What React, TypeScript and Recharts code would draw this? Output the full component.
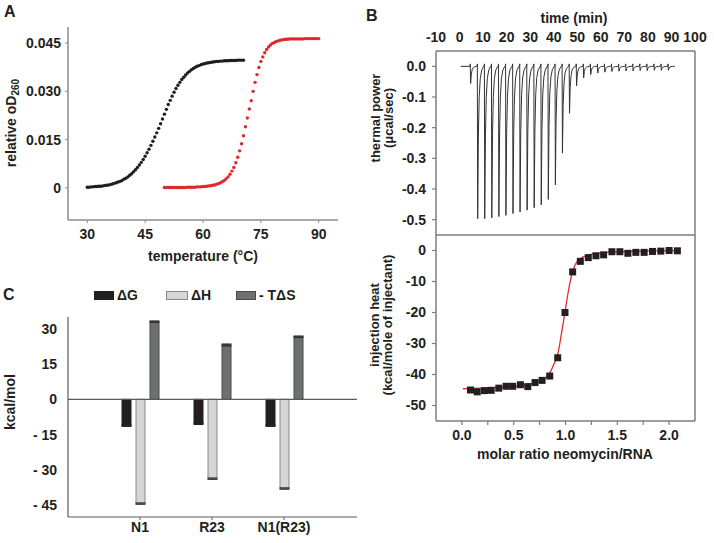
import React from "react";
import {
  ScatterChart,
  Scatter,
  LineChart,
  Line,
  ComposedChart,
  BarChart,
  Bar,
  ErrorBar,
  XAxis,
  YAxis,
  ReferenceLine,
} from "recharts";

const W = 714;
const H = 543;
const FONT = "'Liberation Sans', Arial, Helvetica, sans-serif";
const INK = "#231f20";
const FRAME = "#7d7d7d";

// A: melting curves, relative oD260 read every 0.5 °C
const MELT_STEP = 0.5;
const FREE_T0 = 30;
const freeOD = [
  0.0002, 0.0002, 0.0003, 0.0003, 0.0004, 0.0004, 0.0005, 0.0005, 0.0006, 0.0007,
  0.0008, 0.0009, 0.001, 0.0012, 0.0014, 0.0016, 0.0018, 0.002, 0.0023, 0.0027,
  0.003, 0.0034, 0.0039, 0.0044, 0.005, 0.0056, 0.0063, 0.0071, 0.0079, 0.0088,
  0.0098, 0.0109, 0.012, 0.0132, 0.0145, 0.0158, 0.0171, 0.0185, 0.0199, 0.0214,
  0.0229, 0.0244, 0.0259, 0.0272, 0.0285, 0.0297, 0.0309, 0.0319, 0.0328, 0.0337,
  0.0344, 0.0351, 0.0357, 0.0362, 0.0367, 0.0371, 0.0375, 0.0378, 0.038, 0.0383,
  0.0385, 0.0386, 0.0388, 0.0389, 0.039, 0.0391, 0.0392, 0.0393, 0.0393, 0.0394,
  0.0394, 0.0395, 0.0395, 0.0395, 0.0396, 0.0396, 0.0396, 0.0396, 0.0397, 0.0397,
  0.0397, 0.0397,
];
const BOUND_T0 = 50;
const boundOD = [
  0.0001, 0.0001, 0.0001, 0.0001, 0.0001, 0.0001, 0.0001, 0.0001, 0.0001, 0.0001,
  0.0001, 0.0001, 0.0002, 0.0002, 0.0002, 0.0002, 0.0002, 0.0003, 0.0003, 0.0003,
  0.0004, 0.0004, 0.0005, 0.0006, 0.0007, 0.0008, 0.0009, 0.0011, 0.0013, 0.0016,
  0.0019, 0.0023, 0.0028, 0.0034, 0.0042, 0.0052, 0.0063, 0.0078, 0.0095, 0.0115,
  0.0137, 0.0162, 0.019, 0.0217, 0.0245, 0.0271, 0.03, 0.0328, 0.0352, 0.0374,
  0.0393, 0.0407, 0.042, 0.043, 0.0438, 0.0444, 0.0449, 0.0452, 0.0455, 0.0457,
  0.0459, 0.046, 0.0461, 0.0462, 0.0462, 0.0463, 0.0463, 0.0463, 0.0463, 0.0463,
  0.0463, 0.0463, 0.0463, 0.0464, 0.0464, 0.0464, 0.0464, 0.0464, 0.0464, 0.0464,
  0.0464,
];
const tempTicks = [30, 45, 60, 75, 90];
const odTicks = [0, 0.015, 0.03, 0.045];

// B top: raw ITC trace, one spike per injection
const injTimes = [
  4.5, 7.5, 10.5, 13.5, 16.5, 19.5, 22.5, 25.5, 28.5, 31.5, 34.5, 37.5, 40.5, 43.5, 46.5,
  49.5, 52.5, 55.5, 58.5, 61.5, 64.5, 67.5, 70.5, 73.5, 76.5, 79.5, 82.5, 85.5, 88.5,
];
const injPeaks = [
  -0.056, -0.497, -0.497, -0.494, -0.49, -0.486, -0.48, -0.475, -0.469, -0.461, -0.452,
  -0.434, -0.386, -0.283, -0.153, -0.064, -0.038, -0.027, -0.022, -0.019, -0.017, -0.016,
  -0.015, -0.015, -0.014, -0.014, -0.013, -0.013, -0.013,
];
// spike shape: time after injection and fraction of the peak
const spikeDt = [0, 0.05, 0.2, 0.5, 0.85, 1.3, 1.9, 2.7];
const spikeFrac = [0, -0.4, 1, 0.45, 0.2, 0.08, 0.025, 0];
const BASE_START = 0.5;
const BASE_END = 91.5;
const timeTicks = [-10, 0, 10, 20, 30, 40, 50, 60, 70, 80, 90, 100];
const timeInTicks = [
  -5, 0, 5, 10, 15, 20, 25, 30, 35, 40, 45, 50, 55, 60, 65, 70, 75, 80, 85, 90, 95,
];
const powerTicks = [0, -0.1, -0.2, -0.3, -0.4, -0.5];
const powerMinor = [-0.05, -0.15, -0.25, -0.35, -0.45];
const powerRight = [0, -0.05, -0.1, -0.15, -0.2, -0.25, -0.3, -0.35, -0.4, -0.45, -0.5];

// B bottom: integrated heats and fit
const molarRatio = [
  0.083, 0.148, 0.218, 0.283, 0.356, 0.427, 0.491, 0.565, 0.636, 0.706, 0.774, 0.848, 0.925,
  0.995, 1.069, 1.143, 1.22, 1.294, 1.368, 1.448, 1.525, 1.602, 1.679, 1.759, 1.84, 1.92, 2.0,
  2.08,
];
const injHeat = [
  -45.0, -45.6, -45.2, -45.1, -44.4, -43.8, -43.8, -43.3, -43.9, -42.6, -41.9, -40.5, -34.6,
  -20.0, -6.9, -3.5, -2.3, -1.7, -1.4, -0.4, -0.4, -0.9, -0.6, -0.6, -0.3, -0.2, 0.0, -0.1,
];
const fitRatio = [
  0.01, 0.2, 0.4, 0.5, 0.6, 0.7, 0.75, 0.8, 0.85, 0.88, 0.9, 0.92, 0.94, 0.96, 0.98, 1.0,
  1.02, 1.04, 1.06, 1.08, 1.1, 1.14, 1.2, 1.3, 1.4, 1.6, 1.8, 2.08,
];
const fitHeat = [
  -44.6, -44.4, -44.1, -43.9, -43.5, -42.8, -42.2, -41.2, -39.4, -37.3, -35.8, -34.2, -31.0,
  -27.0, -23.0, -18.8, -14.6, -10.9, -7.9, -5.7, -4.2, -2.7, -1.7, -1.0, -0.6, -0.3, -0.15,
  -0.05,
];
const ratioTicks = [0, 0.25, 0.5, 0.75, 1, 1.25, 1.5, 1.75, 2];
const heatTicks = [0, -10, -20, -30, -40, -50];
const heatMinor = [-5, -15, -25, -35, -45];
const heatRight = [0, -5, -10, -15, -20, -25, -30, -35, -40, -45, -50];

// C: thermodynamic profile
const complexes = ["N1", "R23", "N1(R23)"];
const dG = [-11.2, -10.4, -11.2];
const dH = [-44.3, -33.7, -37.9];
const mTdS = [33.0, 23.1, 26.6];
const dGErr = [0.2, 0.2, 0.2];
const dHErr = [0.25, 0.25, 0.25];
const mTdSErr = [0.25, 0.35, 0.25];
const kcalTicks = [30, 15, 0, -15, -30, -45];

const freePts = freeOD.map((y, i) => ({ x: FREE_T0 + i * MELT_STEP, y }));
const boundPts = boundOD.map((y, i) => ({ x: BOUND_T0 + i * MELT_STEP, y }));

const trace: { t: number; p: number }[] = [{ t: BASE_START, p: 0 }];
injTimes.forEach((t0, i) => {
  spikeDt.forEach((dt, k) => {
    const f = spikeFrac[k];
    // small upward kick right at injection
    const p = f < 0 ? 0.008 : injPeaks[i] * f;
    trace.push({ t: t0 + dt, p });
  });
});
trace.push({ t: BASE_END, p: 0 });

const heatPts = molarRatio.map((x, i) => ({ x, y: injHeat[i] }));
const fitPts = fitRatio.map((x, i) => ({ x, y: fitHeat[i] }));

const barRows = complexes.map((name, i) => ({
  name,
  dG: dG[i],
  dH: dH[i],
  mTdS: mTdS[i],
  dGErr: dGErr[i],
  dHErr: dHErr[i],
  mTdSErr: mTdSErr[i],
}));

const tickText = { fontSize: 14, fontWeight: 700, fill: INK, fontFamily: FONT };
const abs: React.CSSProperties = { position: "absolute", left: 0, top: 0 };
const frameLine = { stroke: FRAME, strokeWidth: 1.5 };
const tickLn = { stroke: FRAME, strokeWidth: 1.2 };

const dot = (color: string) => (p: any) => (
  <circle cx={p.cx} cy={p.cy} r={1.7} fill={color} />
);
const square = (p: any) => (
  <rect x={p.cx - 3.5} y={p.cy - 3.5} width={7} height={7} fill={INK} />
);

function Caption({
  cx,
  cy,
  rotate,
  size = 14,
  lh,
  children,
}: {
  cx: number;
  cy: number;
  rotate?: boolean;
  size?: number;
  lh?: number;
  children: React.ReactNode;
}) {
  return (
    <div
      style={{
        position: "absolute",
        left: cx,
        top: cy,
        transform: `translate(-50%, -50%)${rotate ? " rotate(-90deg)" : ""}`,
        fontFamily: FONT,
        fontWeight: 700,
        fontSize: size,
        color: INK,
        whiteSpace: "nowrap",
        textAlign: "center",
        lineHeight: lh ? `${lh}px` : 1,
      }}
    >
      {children}
    </div>
  );
}

function Letter({ x, y, children }: { x: number; y: number; children: React.ReactNode }) {
  return (
    <div
      style={{
        position: "absolute",
        left: x,
        top: y,
        fontFamily: FONT,
        fontWeight: 700,
        fontSize: 16,
        lineHeight: 1,
        color: INK,
      }}
    >
      {children}
    </div>
  );
}

function LegendItem({
  x,
  w,
  fill,
  border,
  label,
}: {
  x: number;
  w: number;
  fill: string;
  border: string;
  label: string;
}) {
  return (
    <>
      <div
        style={{
          position: "absolute",
          left: x,
          top: 291,
          width: w,
          height: 7,
          background: fill,
          border: `1px solid ${border}`,
        }}
      />
      <div
        style={{
          position: "absolute",
          left: x + w + 5,
          top: 288,
          fontFamily: FONT,
          fontWeight: 700,
          fontSize: 14,
          lineHeight: "14px",
          color: INK,
          whiteSpace: "nowrap",
        }}
      >
        {label}
      </div>
    </>
  );
}

export default function App() {
  return (
    <div style={{ position: "absolute", left: 0, top: 0, width: W, height: H, background: "#fff" }}>
      {/* A */}
      <div style={abs}>
        <ScatterChart width={W} height={H} margin={{ top: 27, right: W - 338, bottom: H - 220 - 30, left: 8 }}>
          <XAxis
            type="number"
            dataKey="x"
            domain={[25, 95]}
            ticks={tempTicks}
            interval={0}
            height={30}
            axisLine={{ stroke: "#8c8c8c", strokeWidth: 1.5 }}
            tickLine={{ stroke: "#8c8c8c" }}
            tickSize={3}
            tickMargin={6}
            tick={tickText}
            allowDataOverflow
          />
          <YAxis
            type="number"
            dataKey="y"
            domain={[-0.01, 0.05]}
            ticks={odTicks}
            interval={0}
            width={60}
            axisLine={{ stroke: "#8c8c8c", strokeWidth: 1.5 }}
            tickLine={{ stroke: "#8c8c8c" }}
            tickSize={3}
            tickMargin={4}
            tick={tickText}
            tickFormatter={(v: number) => (v === 0 ? "0" : v.toFixed(3))}
            allowDataOverflow
          />
          <Scatter data={freePts} shape={dot("#1e1e1e")} isAnimationActive={false} />
          <Scatter data={boundPts} shape={dot("#e3262c")} isAnimationActive={false} />
        </ScatterChart>
      </div>

      {/* B top: raw heat */}
      <div style={abs}>
        <LineChart width={W} height={H} margin={{ top: 21, right: W - 695, bottom: H - 235, left: 376 }}>
          <XAxis
            xAxisId="t"
            orientation="top"
            type="number"
            dataKey="t"
            domain={[-10, 100]}
            ticks={timeTicks}
            interval={0}
            height={30}
            axisLine={frameLine}
            tickLine={false}
            tickSize={4}
            tickMargin={5}
            tick={tickText}
            allowDataOverflow
          />
          <XAxis
            xAxisId="tIn"
            orientation="top"
            mirror
            type="number"
            domain={[-10, 100]}
            ticks={timeInTicks}
            interval={0}
            axisLine={false}
            tickLine={tickLn}
            tickSize={4}
            tick={false}
            allowDataOverflow
          />
          <YAxis
            yAxisId="p"
            type="number"
            domain={[-0.55, 0.05]}
            ticks={powerTicks}
            interval={0}
            width={60}
            axisLine={frameLine}
            tickLine={tickLn}
            tickSize={4}
            tickMargin={6}
            tick={tickText}
            tickFormatter={(v: number) => v.toFixed(1)}
            allowDataOverflow
          />
          <YAxis
            yAxisId="pInL"
            mirror
            type="number"
            domain={[-0.55, 0.05]}
            ticks={powerMinor}
            interval={0}
            axisLine={false}
            tickLine={tickLn}
            tickSize={3}
            tick={false}
            allowDataOverflow
          />
          <YAxis
            yAxisId="pInR"
            orientation="right"
            mirror
            type="number"
            domain={[-0.55, 0.05]}
            ticks={powerRight}
            interval={0}
            axisLine={frameLine}
            tickLine={tickLn}
            tickSize={4}
            tick={false}
            allowDataOverflow
          />
          <Line
            xAxisId="t"
            yAxisId="p"
            data={trace}
            dataKey="p"
            type="linear"
            stroke="#333"
            strokeWidth={1}
            dot={false}
            isAnimationActive={false}
          />
        </LineChart>
      </div>

      {/* B bottom: integrated heats */}
      <div style={abs}>
        <ComposedChart width={W} height={H} margin={{ top: 235, right: W - 695, bottom: H - 421 - 30, left: 376 }}>
          <XAxis
            xAxisId="m"
            type="number"
            dataKey="x"
            domain={[-0.25, 2.25]}
            ticks={ratioTicks}
            interval={0}
            height={30}
            axisLine={frameLine}
            tickLine={tickLn}
            tickSize={4}
            tickMargin={5}
            tick={tickText}
            tickFormatter={(v: number) => (v % 0.5 === 0 ? v.toFixed(1) : "")}
            allowDataOverflow
          />
          <XAxis
            xAxisId="mIn"
            orientation="top"
            mirror
            type="number"
            domain={[-0.25, 2.25]}
            ticks={ratioTicks}
            interval={0}
            axisLine={frameLine}
            tickLine={tickLn}
            tickSize={4}
            tick={false}
            allowDataOverflow
          />
          <YAxis
            yAxisId="h"
            type="number"
            dataKey="y"
            domain={[-55, 5]}
            ticks={heatTicks}
            interval={0}
            width={60}
            axisLine={frameLine}
            tickLine={tickLn}
            tickSize={4}
            tickMargin={6}
            tick={tickText}
            allowDataOverflow
          />
          <YAxis
            yAxisId="hInL"
            mirror
            type="number"
            domain={[-55, 5]}
            ticks={heatMinor}
            interval={0}
            axisLine={false}
            tickLine={tickLn}
            tickSize={3}
            tick={false}
            allowDataOverflow
          />
          <YAxis
            yAxisId="hInR"
            orientation="right"
            mirror
            type="number"
            domain={[-55, 5]}
            ticks={heatRight}
            interval={0}
            axisLine={frameLine}
            tickLine={tickLn}
            tickSize={4}
            tick={false}
            allowDataOverflow
          />
          <Scatter xAxisId="m" yAxisId="h" data={heatPts} shape={square} isAnimationActive={false} />
          <Line
            xAxisId="m"
            yAxisId="h"
            data={fitPts}
            dataKey="y"
            type="monotone"
            stroke="#e0302e"
            strokeWidth={1.3}
            dot={false}
            isAnimationActive={false}
          />
        </ComposedChart>
      </div>

      {/* C */}
      <div style={abs}>
        <BarChart
          width={W}
          height={H}
          data={barRows}
          barSize={9}
          barGap={5}
          margin={{ top: 317, right: W - 357, bottom: H - 517 - 20, left: 8 }}
        >
          <XAxis
            dataKey="name"
            padding={{ left: 36, right: 37 }}
            height={20}
            interval={0}
            axisLine={{ stroke: "#5a5a5a", strokeWidth: 1.2 }}
            tickLine={{ stroke: "#5a5a5a" }}
            tickSize={3}
            tickMargin={2}
            tick={tickText}
          />
          <YAxis
            type="number"
            domain={[-50, 35]}
            ticks={kcalTicks}
            interval={0}
            width={60}
            axisLine={{ stroke: "#5a5a5a", strokeWidth: 1.2 }}
            tickLine={false}
            tickSize={0}
            tickMargin={11}
            tick={tickText}
            tickFormatter={(v: number) => (v < 0 ? `- ${-v}` : String(v))}
            allowDataOverflow
          />
          <ReferenceLine y={0} stroke="#5a5a5a" strokeWidth={1.2} />
          <Bar dataKey="dG" fill={INK} stroke={INK} isAnimationActive={false}>
            <ErrorBar dataKey="dGErr" width={5} stroke={INK} />
          </Bar>
          <Bar dataKey="dH" fill="#d6d6d6" stroke="#8a8a8a" isAnimationActive={false}>
            <ErrorBar dataKey="dHErr" width={5} stroke="#444" />
          </Bar>
          <Bar dataKey="mTdS" fill="#6c706f" stroke="#474a49" isAnimationActive={false}>
            <ErrorBar dataKey="mTdSErr" width={5} stroke="#333" />
          </Bar>
        </BarChart>
      </div>

      {/* panel letters */}
      <Letter x={4} y={4}>A</Letter>
      <Letter x={366} y={8}>B</Letter>
      <Letter x={3} y={287}>C</Letter>

      {/* axis titles */}
      <Caption cx={12} cy={123} rotate>
        relative oD<sub style={{ fontSize: 10, verticalAlign: "-3px" }}>260</sub>
      </Caption>
      <Caption cx={203} cy={256}>temperature (°C)</Caption>
      <Caption cx={574} cy={18}>time (min)</Caption>
      <Caption cx={382} cy={118} rotate size={13} lh={13}>
        thermal power
        <br />
        (μcal/sec)
      </Caption>
      <Caption cx={381} cy={325} rotate size={13} lh={13}>
        injection heat
        <br />
        (kcal/mole of injectant)
      </Caption>
      <Caption cx={565} cy={454}>molar ratio neomycin/RNA</Caption>
      <Caption cx={10} cy={402} rotate>kcal/mol</Caption>

      {/* C legend */}
      <LegendItem x={94} w={18} fill={INK} border={INK} label="ΔG" />
      <LegendItem x={166} w={20} fill="#d6d6d6" border="#8a8a8a" label="ΔH" />
      <LegendItem x={236} w={18} fill="#6c706f" border="#474a49" label="- TΔS" />
    </div>
  );
}
